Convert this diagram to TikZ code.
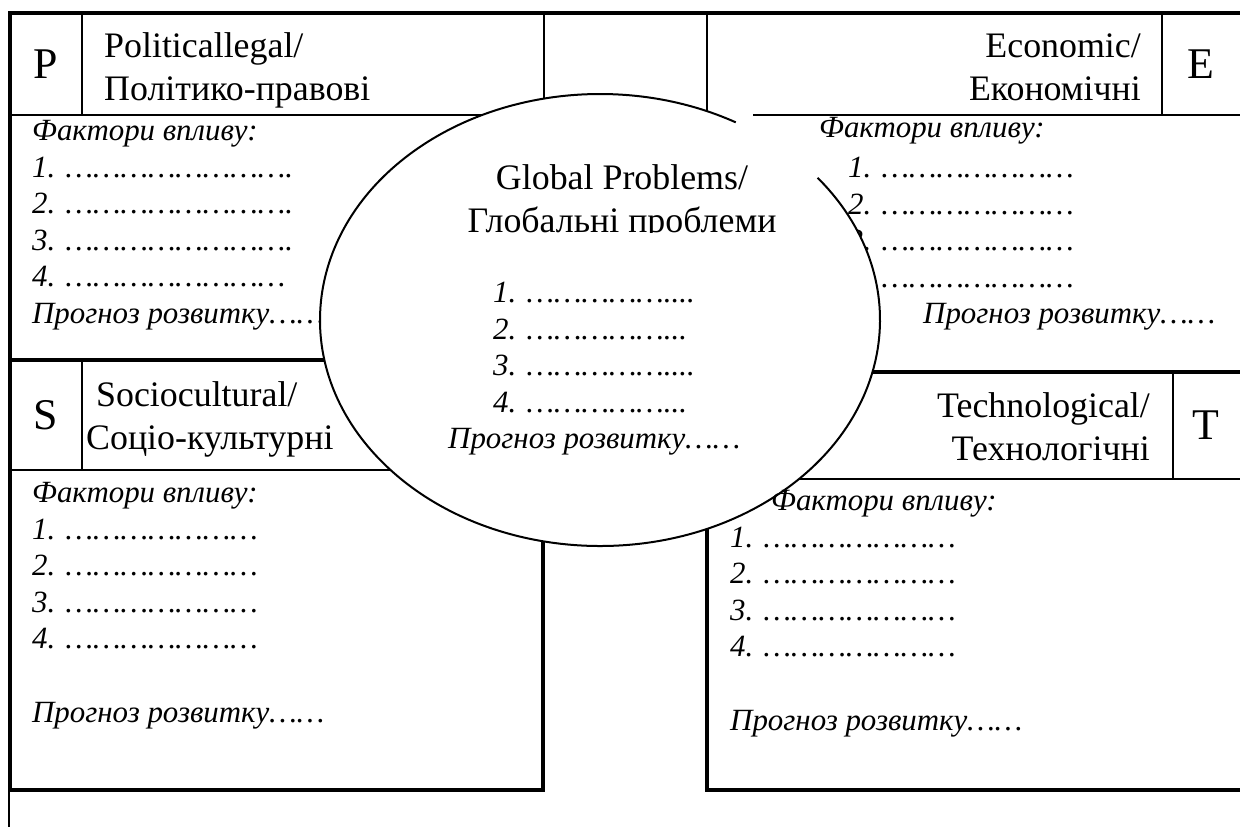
\documentclass[tikz,border=0pt]{standalone}
\usepackage{fontspec}
\setmainfont{Liberation Serif}
\usetikzlibrary{positioning}

\tikzset{
    frame/.style={line width=3.4bp},
    divider/.style={line width=2bp},
    letter/.style={font=\fontsize{44}{50}\selectfont, inner sep=0pt},
    heading/.style={font=\fontsize{36}{43}\selectfont, inner sep=0pt},
    factors/.style={font=\fontsize{31}{36.6}\selectfont\itshape, inner sep=0pt, align=left},
}

\begin{document}
\begin{tikzpicture}[x=1bp, y=-1bp]
        \useasboundingbox (0,0) rectangle (1240,827);

        \draw[frame] (8,13) -- (1240,13);
        \draw[frame] (10,13) -- (10,790);
        \draw[frame] (10,360) -- (340,360);
        \draw[frame] (543,520) -- (543,790);
        \draw[frame] (8,790) -- (545,790);
        \draw[frame] (850,372) -- (1240,372);
        \draw[frame] (707,510) -- (707,790);
        \draw[frame] (705,790) -- (1240,790);
        \draw[line width=1.5bp] (9,790) -- (9,827);

        \draw[divider] (82,13) -- (82,115);
        \draw[divider] (10,115) -- (544,115);
        \draw[divider] (544,13) -- (544,115);
        \draw[divider] (707,13) -- (707,115);
        \draw[divider] (753,115) -- (1240,115);
        \draw[divider] (1162,13) -- (1162,115);
        \draw[divider] (82,360) -- (82,470);
        \draw[divider] (10,470) -- (410,470);
        \draw[divider] (780,479) -- (1240,479);
        \draw[divider] (1173,372) -- (1173,479);

        % last lines of the multi-line nodes sit on the anchor
        \node[letter] (P) at (46,64) {P};
        \node[heading, align=left, anchor=base west] (Phead) at (104,100) {Politicallegal/\\Політико-правові};
        \node[factors, anchor=base west] (Pfactors) at (32,323) {Фактори впливу:\\1. …………………….\\2. …………………….\\3. …………………….\\4. ……………………\\Прогноз розвитку……};

        \node[letter] (E) at (1201,64) {E};
        \node[heading, align=right, anchor=base east] (Ehead) at (1141,100) {Economic/\\Економічні};
        \node[factors, anchor=base west] (Elist) at (848,287) {1. …………………\\2. …………………\\3. …………………\\4. …………………};
        \node[factors, anchor=base west] (Eforecast) at (923,323) {Прогноз розвитку……};

        \node[factors, anchor=base west] (Sfactors) at (32,722) {Фактори впливу:\\1. …………………\\2. …………………\\3. …………………\\4. …………………\\[37bp]Прогноз розвитку……};

        \coordinate (G) at (600,320);
        \fill[white] (G) ellipse [x radius=280, y radius=226];
        \draw[divider] (G) ++(-39:280 and 226) arc[start angle=-39, end angle=299, x radius=280, y radius=226];

        \node[factors, anchor=base west] (Efactors) at (819,137) {Фактори впливу:};

        \node[letter] (S) at (46,415) {S};
        \node[heading, align=left, anchor=base west] (Shead) at (86,449) {\hspace*{10bp}Sociocultural/\\Соціо-культурні};

        \node[letter] (T) at (1206,425) {T};
        \node[heading, align=right, anchor=base east] (Thead) at (1150,460) {Technological/\\Технологічні};
        \node[factors, anchor=base west] (Tfactors) at (771,510) {Фактори впливу:};
        \node[factors, anchor=base west] (Tlist) at (730,730) {1. …………………\\2. …………………\\3. …………………\\4. …………………\\[37bp]Прогноз розвитку……};

        \begin{scope}
            \clip (400,140) rectangle (850,232);
            \node[heading, align=center, anchor=base] (Gtitle) at (622,232) {Global Problems/\\Глобальні проблеми};
        \end{scope}
        \node[factors, anchor=base west] (Glist) at (493,412) {1. ……………....\\2. ……………...\\3. ……………....\\4. ……………...};
        \node[factors, anchor=base west] (Gforecast) at (448,448) {Прогноз розвитку……};
    \end{tikzpicture}
\end{document}
